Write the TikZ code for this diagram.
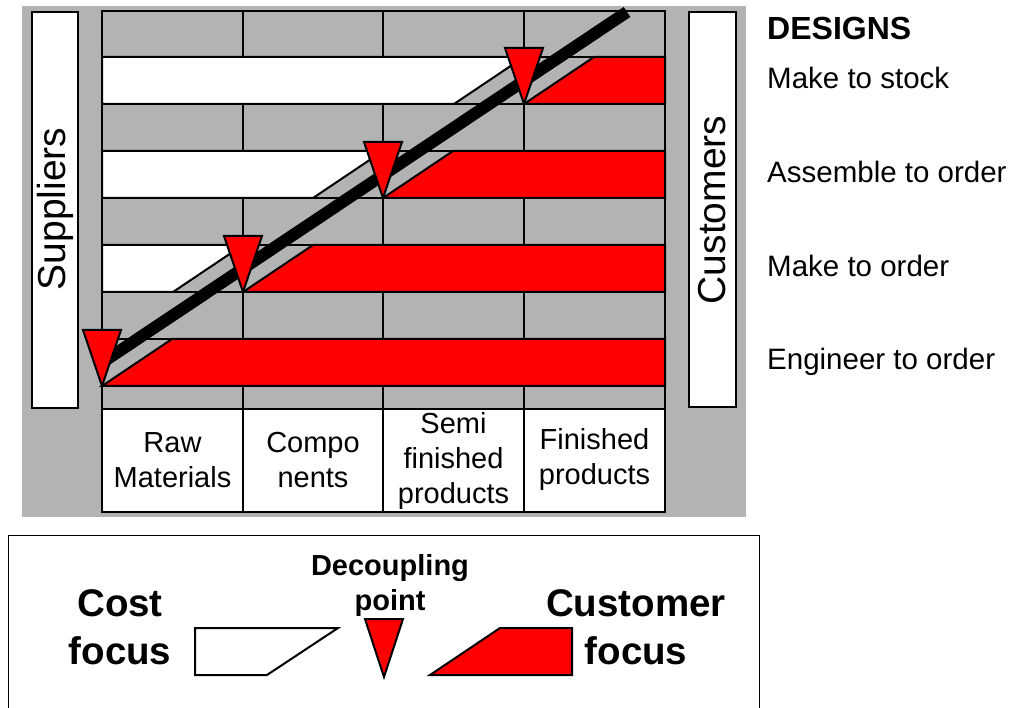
\documentclass[tikz,border=0pt]{standalone}
\usepackage{fontspec}
\setmainfont{Liberation Sans}
\definecolor{panelgray}{RGB}{179,179,179}
\definecolor{focusred}{RGB}{255,0,0}
\tikzset{
  inkline/.style={draw=black, line width=2pt, line join=miter},
  costbar/.style={inkline, fill=white},
  custbar/.style={inkline, fill=focusred},
  decpoint/.style={inkline, fill=focusred},
  sidebox/.style={inkline, fill=white},
  sidelabel/.style={font=\fontsize{39}{45}\selectfont, rotate=90, inner sep=0pt},
  collabel/.style={font=\fontsize{29}{35}\selectfont, align=center, inner sep=0pt},
  designhead/.style={font=\fontsize{32}{38}\bfseries\selectfont, anchor=base west, inner sep=0pt},
  designlabel/.style={font=\fontsize{29.5}{35}\selectfont, anchor=base west, inner sep=0pt},
  legendbig/.style={font=\fontsize{38.5}{48}\bfseries\selectfont, align=center, inner sep=0pt},
  legendsmall/.style={font=\fontsize{29}{35}\bfseries\selectfont, align=center, inner sep=0pt},
}
\begin{document}
\begin{tikzpicture}[x=1pt,y=-1pt]
\useasboundingbox (0,0) rectangle (1012,708);

% grey panel
\fill[panelgray] (22,6) rectangle (746,517);

% suppliers and customers
\draw[sidebox] (32,12) rectangle (78,408);
\node[sidelabel] (suppliers) at (55,209) {Suppliers};
\draw[sidebox] (689,12) rectangle (736,407);
\node[sidelabel] (customers) at (712.5,210) {Customers};

% grid of stages
\draw[inkline] (102,11) rectangle (665,409);
\foreach \yy in {57,104,151,198,245,292,339,386}
  \draw[inkline] (102,\yy) -- (665,\yy);
\foreach \xx in {243,383,524}
  \draw[inkline] (\xx,11) -- (\xx,409);

% make to stock
\draw[costbar] (102,57) -- (524,57) -- (454,104) -- (102,104) -- cycle;
\draw[custbar] (524,104) -- (594,57) -- (665,57) -- (665,104) -- cycle;
% assemble to order
\draw[costbar] (102,151) -- (383,151) -- (313,198) -- (102,198) -- cycle;
\draw[custbar] (383,198) -- (453,151) -- (665,151) -- (665,198) -- cycle;
% make to order
\draw[costbar] (102,245) -- (243,245) -- (173,292) -- (102,292) -- cycle;
\draw[custbar] (243,292) -- (313,245) -- (665,245) -- (665,292) -- cycle;
% engineer to order
\draw[custbar] (102,386) -- (172,339) -- (665,339) -- (665,386) -- cycle;

% decoupling line
\draw[line width=12pt] (106,360) -- (627,12);

% decoupling points
\foreach \cx/\cy in {102/386,243/292,383/198,524/104}
  \draw[decpoint] (\cx-19,\cy-56) -- (\cx+19,\cy-56) -- (\cx,\cy) -- cycle;

% stage labels
\draw[sidebox] (102,409) rectangle (243,512);
\draw[sidebox] (243,409) rectangle (383,512);
\draw[sidebox] (383,409) rectangle (524,512);
\draw[sidebox] (524,409) rectangle (665,512);
\node[collabel] (raw)  at (172.5,460) {Raw\\Materials};
\node[collabel] (comp) at (313,460) {Compo\\nents};
\node[collabel] (semi) at (453.5,461) {Semi\\finished\\products};
\node[collabel] (fin)  at (594.5,460) {Finished\\products};

% designs
\node[designhead] (designs) at (767,40) {DESIGNS};
\node[designlabel] (mts) at (767,89) {Make to stock};
\node[designlabel] (ato) at (767,183) {Assemble to order};
\node[designlabel] (mto) at (767,277) {Make to order};
\node[designlabel] (eto) at (767,370) {Engineer to order};

% legend
\draw[line width=1pt, fill=white] (8,535) rectangle (759,720);
\node[legendbig] (cost) at (120,627) {Cost\\focus};
\node[legendsmall] (decoup) at (390,585) {Decoupling\\point};
\node[legendbig] (custf) at (636,627) {Customer\\focus};
\draw[costbar] (195,628) -- (338,628) -- (267,675) -- (195,675) -- cycle;
\draw[decpoint] (365,619) -- (403,619) -- (384,677) -- cycle;
\draw[custbar] (430,675) -- (500,628) -- (572,628) -- (572,675) -- cycle;
\end{tikzpicture}
\end{document}
